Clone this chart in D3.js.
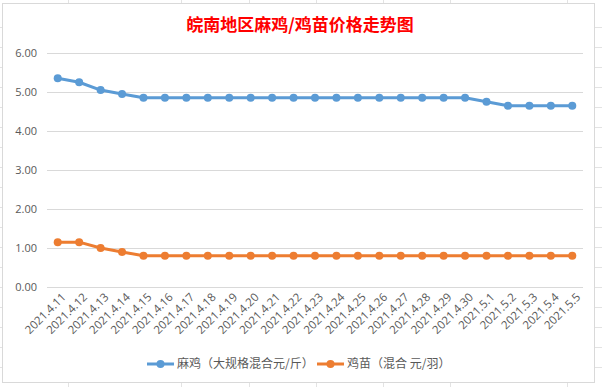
<!DOCTYPE html>
<html>
<head>
<meta charset="utf-8" />
<title>皖南地区麻鸡/鸡苗价格走势图</title>
<script src="https://cdn.jsdelivr.net/npm/d3@7/dist/d3.min.js"></script>
<style>
  body { margin: 0; padding: 0; background: #fff; }
  svg { display: block; }
  .axis text { font: 11px "Open Sans", "Noto Sans", sans-serif; fill: #595959; }
  .xaxis text { font-size: 11.5px; }
  .legend text { font: 12px "Noto Sans CJK SC", sans-serif; fill: #595959; }
</style>
</head>
<body>
<svg id="chart" width="602" height="387"></svg>
<script>
// dates on the x axis
var dates = ["2021.4.11","2021.4.12","2021.4.13","2021.4.14","2021.4.15","2021.4.16","2021.4.17",
  "2021.4.18","2021.4.19","2021.4.20","2021.4.21","2021.4.22","2021.4.23","2021.4.24","2021.4.25",
  "2021.4.26","2021.4.27","2021.4.28","2021.4.29","2021.4.30","2021.5.1","2021.5.2","2021.5.3",
  "2021.5.4","2021.5.5"];

// 麻鸡 price, yuan / jin
var maji = [5.35,5.25,5.05,4.95,4.85,4.85,4.85,4.85,4.85,4.85,4.85,4.85,4.85,4.85,4.85,
  4.85,4.85,4.85,4.85,4.85,4.75,4.65,4.65,4.65,4.65];

// 鸡苗 price, yuan / bird
var jimiao = [1.15,1.15,1.0,0.9,0.8,0.8,0.8,0.8,0.8,0.8,0.8,0.8,0.8,0.8,0.8,
  0.8,0.8,0.8,0.8,0.8,0.8,0.8,0.8,0.8,0.8];

var yTicks = [0,1,2,3,4,5,6];
var seriesNames = ["麻鸡（大规格混合元/斤）", "鸡苗（混合 元/羽）"];
var seriesColors = ["#5b9bd5", "#ed7d31"];

var svg = d3.select("#chart");

// faint spreadsheet gridlines behind the chart object
var bg = svg.append("g").attr("stroke", "#e3e3e3").attr("stroke-width", 1);
[27, 47, 67, 87, 107, 127, 147, 167, 187, 207, 227, 247, 267, 287, 307, 327, 347, 367].forEach(function(y) {
  bg.append("line").attr("x1", 595).attr("x2", 602).attr("y1", y + 0.5).attr("y2", y + 0.5);
  bg.append("line").attr("x1", 0).attr("x2", 2).attr("y1", y + 0.5).attr("y2", y + 0.5);
});
[68, 181, 249, 316, 383, 450, 567].forEach(function(x) {
  bg.append("line").attr("x1", x + 0.5).attr("x2", x + 0.5).attr("y1", 0).attr("y2", 3);
  bg.append("line").attr("x1", x + 0.5).attr("x2", x + 0.5).attr("y1", 383).attr("y2", 387);
});

// chart area border
svg.append("rect")
    .attr("x", 2.5).attr("y", 3.5)
    .attr("width", 592).attr("height", 379)
    .attr("fill", "#fff")
    .attr("stroke", "#d9d9d9");

// title
svg.append("text")
    .attr("x", 300).attr("y", 31)
    .attr("text-anchor", "middle")
    .style("font", "bold 17px 'Noto Sans CJK SC', serif")
    .style("fill", "#ff0000")
    .text("皖南地区麻鸡/鸡苗价格走势图");

var x = d3.scaleBand().domain(dates).range([47, 583]);
var y = d3.scaleLinear().domain([0, 6]).range([287, 53]);

// gridlines
svg.append("g")
  .selectAll("line")
  .data(yTicks)
  .enter().append("line")
    .attr("x1", 47).attr("x2", 583)
    .attr("y1", function(d) { return Math.round(y(d)) + 0.5; })
    .attr("y2", function(d) { return Math.round(y(d)) + 0.5; })
    .attr("stroke", "#d9d9d9");

// y axis labels
var yAxis = svg.append("g")
    .attr("class", "axis")
    .attr("transform", "translate(37,0)")
    .call(d3.axisLeft(y).tickValues(yTicks).tickFormat(d3.format(".2f")).tickSize(0).tickPadding(0));
yAxis.select(".domain").remove();
yAxis.selectAll("text").attr("dy", "0.35em");

// x axis labels, rotated
var xAxis = svg.append("g")
    .attr("class", "axis xaxis")
    .attr("transform", "translate(0,287)")
    .call(d3.axisBottom(x).tickSize(0).tickPadding(0));
xAxis.select(".domain").remove();
xAxis.selectAll("text")
    .attr("text-anchor", "end")
    .attr("dy", "0.35em")
    .attr("transform", "translate(6,8) rotate(-45)")
    .attr("y", 0);

// lines and markers
var series = [maji, jimiao];
var line = d3.line()
    .x(function(d, i) { return x(dates[i]) + x.bandwidth() / 2; })
    .y(function(d) { return y(d); });

series.forEach(function(vals, k) {
  svg.append("path")
      .datum(vals)
      .attr("fill", "none")
      .attr("stroke", seriesColors[k])
      .attr("stroke-width", 3)
      .attr("stroke-linejoin", "round")
      .attr("d", line);
  svg.append("g")
    .selectAll("circle")
    .data(vals)
    .enter().append("circle")
      .attr("cx", function(d, i) { return x(dates[i]) + x.bandwidth() / 2; })
      .attr("cy", function(d) { return y(d); })
      .attr("r", 4)
      .attr("fill", seriesColors[k]);
});

// legend
var legendX = [147, 317];
var legend = svg.append("g").attr("class", "legend");
seriesNames.forEach(function(name, k) {
  var g = legend.append("g").attr("transform", "translate(" + legendX[k] + ",364)");
  g.append("line").attr("x1", 0).attr("x2", 27).attr("y1", 0).attr("y2", 0)
      .attr("stroke", seriesColors[k]).attr("stroke-width", 3);
  g.append("circle").attr("cx", 13.5).attr("cy", 0).attr("r", 4).attr("fill", seriesColors[k]);
  g.append("text").attr("x", 30).attr("y", 0).attr("dy", "0.35em").text(name);
});
</script>
</body>
</html>
